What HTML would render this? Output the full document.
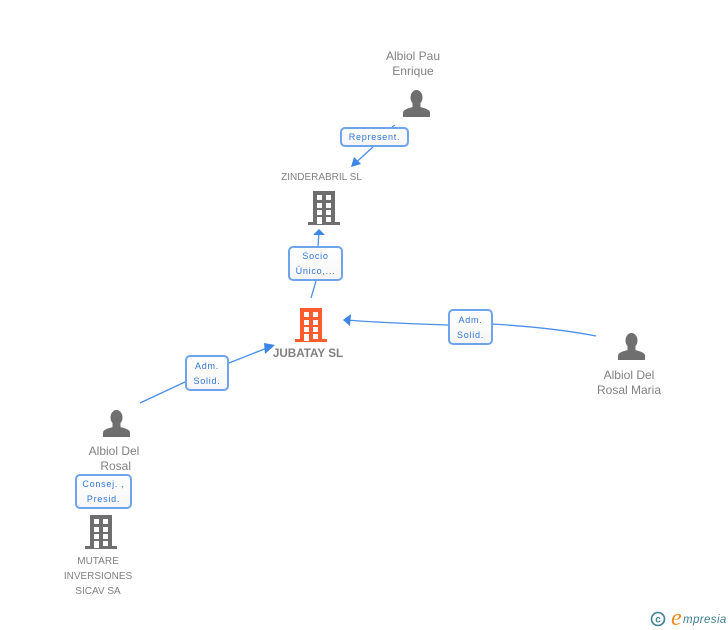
<!DOCTYPE html>
<html><head><meta charset="utf-8"><style>
html,body{margin:0;padding:0;background:#fff}
#c{position:relative;width:728px;height:630px;overflow:hidden;font-family:"Liberation Sans",sans-serif}
svg{position:absolute;left:0;top:0}
.t{position:absolute;text-align:center;color:#808080;font-size:12px;line-height:15px;white-space:nowrap;transform:translateX(-50%)}
.b{position:absolute;box-sizing:border-box;border:2px solid #6ea4ec;border-radius:5px;background:linear-gradient(#fff,#f6f6f6);color:#2f74d8;font-size:9px;letter-spacing:.75px;line-height:15px;text-align:center;white-space:nowrap}
</style></head><body><div id="c">
<svg width="728" height="630" viewBox="0 0 728 630">
<defs>
<g id="p"><ellipse cx="13.5" cy="7.5" rx="6" ry="7.5"/><rect x="9.5" y="11" width="8" height="7"/><path d="M0 27V22.5C0 19.5 6 18 10 17H17C21 18 27 19.5 27 22.5V27Z"/></g>
<g id="h"><path fill-rule="evenodd" d="M5 0H27V31H32V34H0V31H5ZM9 4V9H14V4ZM18 4V9H23V4ZM9 12V17H14V12ZM18 12V17H23V12ZM9 19V24H14V19ZM18 19V24H23V19ZM9 26V33H14V26ZM18 26V31H23V26Z"/></g>
</defs>
<g fill="none" stroke="#4a8fe8" stroke-width="1.3">
<path d="M395 125L392 127M373 147L352 166"/>
<path d="M318 246L319 232M311 298L316 281"/>
<path d="M140 403L185 382M229 363L272 346"/>
<path d="M596 336C565 330 525 326 492 324M448 325C415 324 385 323 346 320"/>
</g>
<g fill="#3d86e6">
<path d="M351 167L354 157L361 164Z"/>
<path d="M319 229L325 235H313Z"/>
<path d="M275 345L265 354L264 343Z"/>
<path d="M343 320L351 314L350 326Z"/>
</g>
<g fill="#6f6f6f">
<use href="#p" x="403" y="90"/>
<use href="#p" x="103" y="410"/>
<use href="#p" x="618" y="333"/>
<use href="#h" x="308" y="191"/>
<use href="#h" x="85" y="515"/>
</g>
<use href="#h" x="295" y="308" fill="#ff5c2e"/>
<circle cx="658" cy="619" r="6.5" fill="none" stroke="#3f7f92" stroke-width="1.6"/>
<text x="658" y="622.5" font-family="Liberation Sans" font-size="10" font-weight="bold" fill="#3f7f92" text-anchor="middle">c</text>
<text x="671" y="625" font-family="Liberation Serif" font-style="italic" font-size="24" fill="#f08a1d">e</text>
<text x="683" y="623" font-family="Liberation Sans" font-style="italic" font-size="11.5" letter-spacing=".4" fill="#3f7f92">mpresia</text>
</svg>
<div class="t" style="left:413px;top:49px">Albiol Pau<br>Enrique</div>
<div class="t" style="left:321.5px;top:170px;font-size:10px">ZINDERABRIL SL</div>
<div class="t" style="left:308px;top:346px;font-weight:bold;font-size:11.7px">JUBATAY SL</div>
<div class="t" style="left:629px;top:368px">Albiol Del<br>Rosal Maria</div>
<div class="t" style="left:114px;top:444px">Albiol Del<br>&nbsp;Rosal</div>
<div class="t" style="left:98px;top:554px;font-size:10px">MUTARE<br>INVERSIONES<br>SICAV SA</div>
<div class="b" style="left:340px;top:127px;width:69px;height:20px;line-height:16px">Represent.</div>
<div class="b" style="left:288px;top:246px;width:55px;height:35px;padding-top:1px">Socio<br>Único,...</div>
<div class="b" style="left:185px;top:355px;width:44px;height:36px;padding-top:2px">Adm.<br>Solid.</div>
<div class="b" style="left:448px;top:309px;width:45px;height:36px;padding-top:2px">Adm.<br>Solid.</div>
<div class="b" style="left:75px;top:474px;width:57px;height:35px;padding-top:1px">Consej. ,<br>Presid.</div>
</div></body></html>
